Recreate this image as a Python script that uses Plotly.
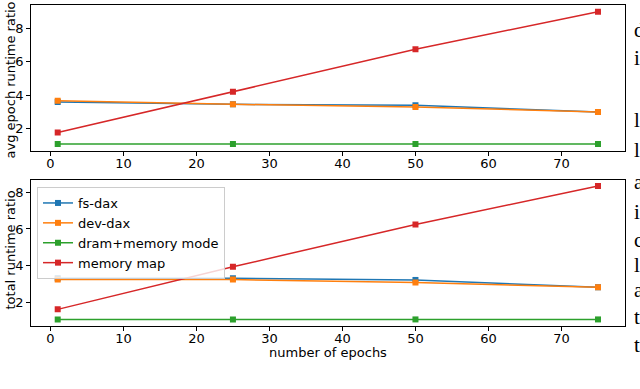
import plotly.graph_objects as go

# epochs on the x axis
epochs = [1, 25, 50, 75]

# top panel: avg epoch runtime ratio
avg_fsdax = [3.61, 3.47, 3.41, 3.01]
avg_devdax = [3.68, 3.47, 3.31, 3.01]
avg_dram = [1.1, 1.1, 1.1, 1.1]
avg_mmap = [1.78, 4.22, 6.76, 9.0]

# bottom panel: total runtime ratio
tot_fsdax = [3.3, 3.3, 3.21, 2.81]
tot_devdax = [3.23, 3.23, 3.07, 2.81]
tot_dram = [1.05, 1.05, 1.05, 1.05]
tot_mmap = [1.6, 3.93, 6.25, 8.35]

names = ["fs-dax", "dev-dax", "dram+memory mode", "memory map"]
colors = ["#1f77b4", "#ff7f0e", "#2ca02c", "#d62728"]

# stray text from the page next to the figure
side_chars = ["d", "i", "l", "l", "a", "i", "c", "l", "a", "t", "t"]
side_y = [30, 58, 120, 150, 182, 212, 240, 265, 290, 317, 345]

W, H = 640, 389
font = "DejaVu Sans"

fig = go.Figure()

top = [avg_fsdax, avg_devdax, avg_dram, avg_mmap]
bot = [tot_fsdax, tot_devdax, tot_dram, tot_mmap]
for i in range(4):
    fig.add_trace(go.Scatter(x=epochs, y=top[i], mode="lines+markers", name=names[i],
                             line=dict(color=colors[i], width=1.5),
                             marker=dict(symbol="square", size=6, color=colors[i]),
                             xaxis="x", yaxis="y", showlegend=False))
for i in range(4):
    fig.add_trace(go.Scatter(x=epochs, y=bot[i], mode="lines+markers", name=names[i],
                             line=dict(color=colors[i], width=1.5),
                             marker=dict(symbol="square", size=6, color=colors[i]),
                             xaxis="x2", yaxis="y2"))

xdom = [30.7 / W, 625 / W]
axis_common = dict(showline=True, mirror=True, linecolor="black", linewidth=1,
                   ticks="outside", ticklen=3.5, tickcolor="black", showgrid=False,
                   zeroline=False, tickfont=dict(family=font, size=13, color="black"))
xaxis_common = dict(axis_common, ticklabelstandoff=-3)

fig.update_layout(
    width=W, height=H,
    margin=dict(l=0, r=0, t=0, b=0),
    paper_bgcolor="white", plot_bgcolor="white",
    font=dict(family=font, size=13, color="black"),
    xaxis=dict(domain=xdom, range=[-2.7, 78.7], tickvals=[0, 10, 20, 30, 40, 50, 60, 70],
               anchor="y", **xaxis_common),
    yaxis=dict(domain=[1 - 151 / H, 1 - 5 / H], range=[0.68, 9.4], tickvals=[2, 4, 6, 8],
               anchor="x", **axis_common),
    xaxis2=dict(domain=xdom, range=[-2.7, 78.7], tickvals=[0, 10, 20, 30, 40, 50, 60, 70],
                anchor="y2", **xaxis_common),
    yaxis2=dict(domain=[1 - 326 / H, 1 - 180 / H], range=[0.69, 8.68], tickvals=[2, 4, 6, 8],
                anchor="x2", **axis_common),
    legend=dict(x=37 / W, y=1 - 187 / H, xanchor="left", yanchor="top",
                bgcolor="rgba(255,255,255,0.8)", bordercolor="#cccccc", borderwidth=1,
                font=dict(family=font, size=13, color="black")),
)

# axis titles
fig.add_annotation(text="avg epoch runtime ratio", textangle=-90, x=0, y=1 - 80 / H,
                   xref="paper", yref="paper", xanchor="left", yanchor="middle",
                   showarrow=False, font=dict(family=font, size=13, color="black"))
fig.add_annotation(text="total runtime ratio", textangle=-90, x=0, y=1 - 250 / H,
                   xref="paper", yref="paper", xanchor="left", yanchor="middle",
                   showarrow=False, font=dict(family=font, size=13, color="black"))
fig.add_annotation(text="number of epochs", x=328 / W, y=1 - 352 / H,
                   xref="paper", yref="paper", xanchor="center", yanchor="middle",
                   showarrow=False, font=dict(family=font, size=13, color="black"))

for ch, yy in zip(side_chars, side_y):
    fig.add_annotation(text=ch, x=632 / W, y=1 - yy / H, xref="paper", yref="paper",
                       xanchor="left", yanchor="middle", showarrow=False,
                       font=dict(family="Liberation Serif", size=21, color="black"))

fig.write_html("out.html", config={"displayModeBar": False},
               post_script="document.body.style.margin='0';")
